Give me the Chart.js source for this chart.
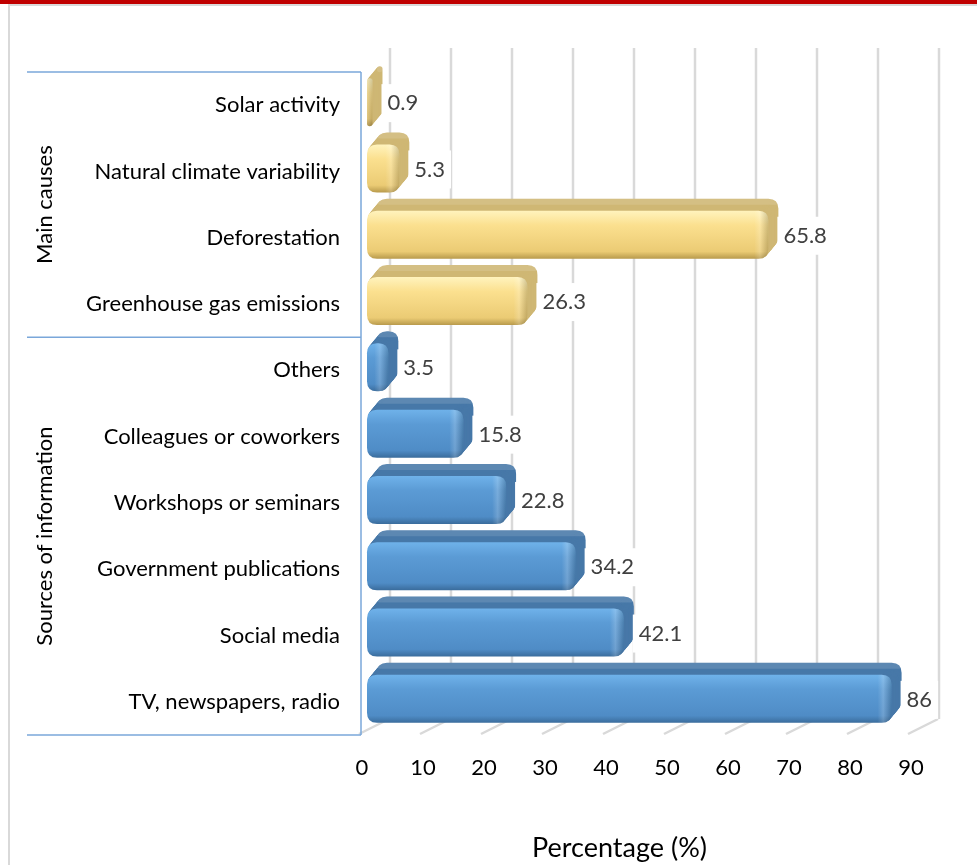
<!DOCTYPE html>
<html>
<head>
<meta charset="utf-8">
<title>Climate change causes and information sources</title>
<script src="https://cdn.jsdelivr.net/npm/chart.js@4.4.1/dist/chart.umd.min.js"></script>
<style>
  html, body { margin: 0; padding: 0; background: #fff; overflow: hidden; }
  #redbar { position: absolute; left: 0; top: 0; width: 977px; height: 4px; background: #c00000; }
  #box { position: absolute; left: 8px; top: 4px; width: 1000px; height: 900px;
         border-left: 2px solid #d9d9d9; border-top: 2px solid #d9d9d9; }
  #wrap { position: absolute; left: 0; top: 0; width: 977px; height: 865px; }
</style>
</head>
<body>
<div id="redbar"></div>
<div id="box"></div>
<div id="wrap"><canvas id="causes-chart"></canvas></div>
<script>
const categories = [
  "Solar activity",
  "Natural climate variability",
  "Deforestation",
  "Greenhouse gas emissions",
  "Others",
  "Colleagues or coworkers",
  "Workshops or seminars",
  "Government publications",
  "Social media",
  "TV, newspapers, radio",
];
const percentages = [0.9, 5.3, 65.8, 26.3, 3.5, 15.8, 22.8, 34.2, 42.1, 86];
const groupNames = ["Main causes", "Sources of information"];
const groupSizes = [4, 6];
const xTicks = [0, 10, 20, 30, 40, 50, 60, 70, 80, 90];

const FONT = "Lato, 'Open Sans', sans-serif";
const FONT_SIZE = 22;

const palettes = [
  { top: "#fff3bd", mid: "#fbe08f", low: "#ebcb74", edge: "#b89a4c", side: "#cfb774" },
  { top: "#6fb2ea", mid: "#5b9bd5", low: "#4f8cc6", edge: "#3a6c9c", side: "#4778a8" },
];

// which group each bar belongs to
const groupOf = [];
groupSizes.forEach((n, g) => {
  for (let i = 0; i < n; i++) groupOf.push(g);
});

function roundRectPath(ctx, x, y, w, h, r) {
  r = Math.min(r, w / 2, h / 2);
  ctx.beginPath();
  ctx.moveTo(x + r, y);
  ctx.lineTo(x + w - r, y);
  ctx.quadraticCurveTo(x + w, y, x + w, y + r);
  ctx.lineTo(x + w, y + h - r);
  ctx.quadraticCurveTo(x + w, y + h, x + w - r, y + h);
  ctx.lineTo(x + r, y + h);
  ctx.quadraticCurveTo(x, y + h, x, y + h - r);
  ctx.lineTo(x, y + r);
  ctx.quadraticCurveTo(x, y, x + r, y);
  ctx.closePath();
}

// extruded, rounded bar: depth swept back-right, then front face
function drawBar3d(ctx, x0, x1, c, pal) {
  const top = c - 27;
  const h = 48;
  const dx = 10;
  const dy = 12;
  const r = 10;
  const w = Math.max(x1 - x0, 3);

  ctx.fillStyle = pal.side;
  const steps = 14;
  for (let s = steps; s >= 1; s--) {
    const t = s / steps;
    roundRectPath(ctx, x0 + dx * t, top - dy * t, w, h, r);
    ctx.fill();
  }
  // light rim along the back edge of the top face
  ctx.fillStyle = "rgba(255,255,255,0.12)";
  roundRectPath(ctx, x0 + dx, top - dy, w, 6, 3);
  ctx.fill();

  const grad = ctx.createLinearGradient(0, top, 0, top + h);
  grad.addColorStop(0, pal.top);
  grad.addColorStop(0.3, pal.mid);
  grad.addColorStop(0.85, pal.low);
  grad.addColorStop(1, pal.edge);
  ctx.fillStyle = grad;
  roundRectPath(ctx, x0, top, w, h, r);
  ctx.fill();

  // soft shading near the rounded end
  const endGrad = ctx.createLinearGradient(x0 + w - 14, 0, x0 + w, 0);
  endGrad.addColorStop(0, "rgba(255,255,255,0)");
  endGrad.addColorStop(0.4, "rgba(255,255,255,0.18)");
  endGrad.addColorStop(1, "rgba(0,0,0,0.18)");
  ctx.fillStyle = endGrad;
  roundRectPath(ctx, x0, top, w, h, r);
  ctx.fill();
}

const wallAndFloor = {
  id: "wallAndFloor",
  beforeDatasetsDraw(chart) {
    const { ctx, scales } = chart;
    const x = scales.x;
    ctx.save();
    ctx.strokeStyle = "#d9d9d9";
    ctx.lineWidth = 2.5;
    xTicks.forEach((v) => {
      const px = x.getPixelForValue(v);
      ctx.beginPath();
      ctx.moveTo(px + 23, 48);
      ctx.lineTo(px + 23, 719);
      ctx.stroke();
      ctx.beginPath();
      ctx.moveTo(px - 8, 734);
      ctx.lineTo(px + 22, 719);
      ctx.stroke();
    });
    ctx.restore();
  },
};

const bars3d = {
  id: "bars3d",
  afterDatasetsDraw(chart) {
    const { ctx } = chart;
    const meta = chart.getDatasetMeta(0);
    ctx.save();
    meta.data.forEach((el, i) => {
      drawBar3d(ctx, el.base, el.x, el.y, palettes[groupOf[i]]);
    });

    // value labels on a white patch
    ctx.font = FONT_SIZE + "px " + FONT;
    ctx.textBaseline = "middle";
    ctx.textAlign = "left";
    meta.data.forEach((el, i) => {
      const text = String(percentages[i]);
      const tx = el.x + 15;
      const tw = ctx.measureText(text).width;
      ctx.fillStyle = "#ffffff";
      ctx.fillRect(tx - 6, el.y - 21, tw + 12, 38);
      ctx.fillStyle = "#404040";
      ctx.fillText(text, tx, el.y - 2);
    });
    ctx.restore();
  },
};

const groupAxis = {
  id: "groupAxis",
  afterDraw(chart) {
    const { ctx, chartArea, scales } = chart;
    const y = scales.y;
    const lineX = chartArea.left - 6;
    const startX = 27;
    ctx.save();
    ctx.strokeStyle = "#7aa7da";
    ctx.lineWidth = 1.5;

    const bounds = [chartArea.top];
    let idx = 0;
    groupSizes.forEach((n) => {
      idx += n;
      if (idx < categories.length) {
        bounds.push((y.getPixelForValue(idx - 1) + y.getPixelForValue(idx)) / 2);
      }
    });
    bounds.push(chartArea.bottom);

    bounds.forEach((b) => {
      ctx.beginPath();
      ctx.moveTo(startX, b);
      ctx.lineTo(lineX, b);
      ctx.stroke();
    });
    ctx.beginPath();
    ctx.moveTo(lineX, chartArea.top);
    ctx.lineTo(lineX, chartArea.bottom);
    ctx.stroke();

    ctx.fillStyle = "#000000";
    ctx.font = FONT_SIZE + "px " + FONT;
    ctx.textAlign = "center";
    ctx.textBaseline = "middle";
    groupNames.forEach((name, g) => {
      const mid = (bounds[g] + bounds[g + 1]) / 2;
      ctx.save();
      ctx.translate(45, mid);
      ctx.rotate(-Math.PI / 2);
      ctx.fillText(name, 0, 0);
      ctx.restore();
    });

    // axis title
    ctx.font = "27px " + FONT;
    ctx.fillText("Percentage (%)", (chartArea.left + chartArea.right) / 2 - 22, 848);
    ctx.restore();
  },
};

new Chart(document.getElementById("causes-chart").getContext("2d"), {
  type: "bar",
  data: {
    labels: categories,
    datasets: [
      {
        label: "Percentage",
        data: percentages,
        backgroundColor: "rgba(0,0,0,0)",
        borderWidth: 0,
        barPercentage: 0.9,
        categoryPercentage: 0.8,
      },
    ],
  },
  options: {
    indexAxis: "y",
    responsive: true,
    maintainAspectRatio: false,
    animation: false,
    layout: { padding: { top: 72, right: 61, left: 0, bottom: 0 } },
    plugins: {
      legend: { display: false },
      tooltip: { enabled: false },
      title: { display: false },
    },
    scales: {
      x: {
        type: "linear",
        min: 0,
        max: 90,
        afterBuildTicks(scale) {
          scale.ticks = xTicks.map((v) => ({ value: v }));
        },
        afterFit(scale) {
          scale.height = 130;
        },
        grid: { display: false, drawTicks: false },
        border: { display: false },
        ticks: {
          padding: 20,
          labelOffset: -5,
          color: "#000000",
          font: { family: FONT, size: FONT_SIZE },
        },
      },
      y: {
        type: "category",
        afterFit(scale) {
          scale.width = 367;
        },
        grid: { display: false, drawTicks: false },
        border: { display: false },
        ticks: {
          padding: 27,
          color: "#000000",
          font: { family: FONT, size: FONT_SIZE },
        },
      },
    },
  },
  plugins: [wallAndFloor, bars3d, groupAxis],
});
</script>
</body>
</html>
